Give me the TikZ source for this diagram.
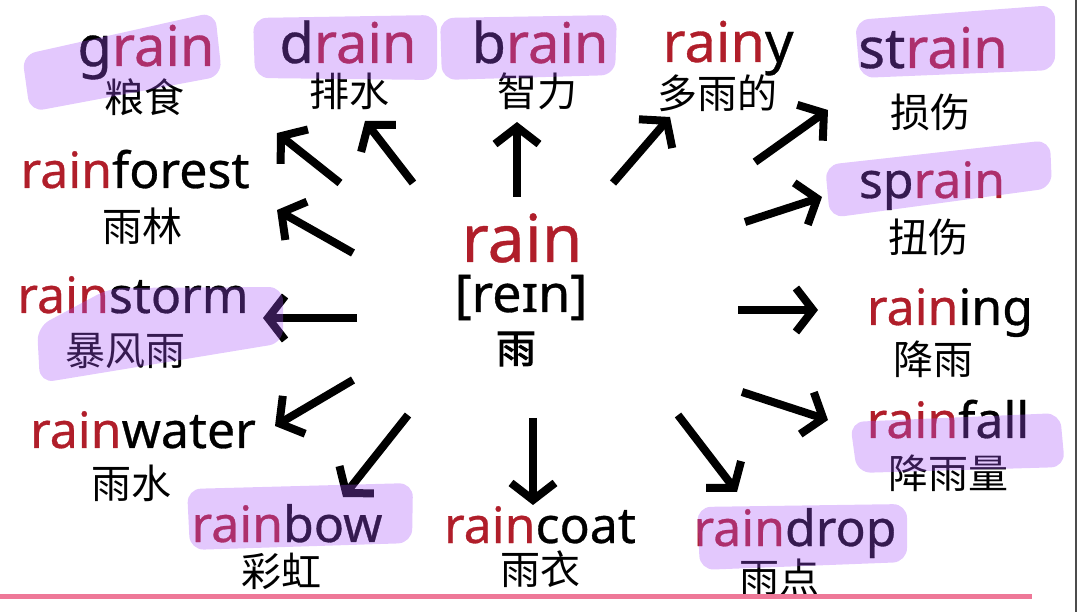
\documentclass[tikz,border=0pt]{standalone}
\usepackage{fontspec}
\setmainfont{Noto Sans}[FakeBold=0.6]
\newfontfamily\cjk{Noto Sans CJK SC}
\newfontfamily\cjkbold{Noto Sans CJK SC}[FakeBold=2.5]
\usepackage{xcolor}
\usepackage{tikz}
\usetikzlibrary{arrows.meta, positioning}

\definecolor{rainred}{RGB}{176,30,42}
\definecolor{hilite}{RGB}{167,83,250}
\definecolor{pinkline}{RGB}{238,120,152}
\newcommand{\rn}{\textcolor{rainred}{rain}}

\tikzset{
  word/.style={inner sep=0pt, anchor=base, font=\fontsize{50}{50}\selectfont},
  bigword/.style={word, font=\fontsize{56}{56}\selectfont},
  gloss/.style={inner sep=0pt, font=\cjk\fontsize{40}{40}\selectfont},
  arr/.style={line width=8pt, -{Straight Barb[length=17pt,width=44pt]}},
  hl/.style={fill=hilite, fill opacity=0.32, rounded corners=14pt},
}

\begin{document}
\begin{tikzpicture}[x=1pt, y=-1pt]
        \useasboundingbox (0,0) rectangle (1080,612);

        % centre
        \node[word, font=\fontsize{66}{66}\selectfont] (rain) at (522,262) {\rn};
        \node[word, font=\fontsize{52}{52}\selectfont] (ipa) at (521,312) {[reɪn]};
        \node[gloss, font=\cjkbold\fontsize{40}{40}\selectfont] (yu) at (516,349) {雨};

        % top row
        \node[bigword] (grain)  at (146,66)  {g\rn};
        \node[gloss]   (grain-z) at (144,97) {粮食};
        \node[bigword] (drain)  at (348,63)  {d\rn};
        \node[gloss]   (drain-z) at (349,91) {排水};
        \node[bigword] (brain)  at (540,63)  {b\rn};
        \node[gloss]   (brain-z) at (537,91) {智力};
        \node[bigword] (rainy)  at (728,62)  {\rn y};
        \node[gloss]   (rainy-z) at (717,93) {多雨的};

        % right column
        \node[bigword] (strain)  at (933,68)  {st\rn};
        \node[gloss]   (strain-z) at (930,112) {损伤};
        \node[word]    (sprain)  at (932,198) {sp\rn};
        \node[gloss]   (sprain-z) at (928,237) {扭伤};
        \node[word]    (raining) at (950,325) {\rn ing};
        \node[gloss]   (raining-z) at (933,359) {降雨};
        \node[word]    (rainfall) at (948,438) {\rn fall};
        \node[gloss]   (rainfall-z) at (948,473) {降雨量};

        % bottom row
        \node[word]    (raindrop) at (795,546) {\rn drop};
        \node[gloss]   (raindrop-z) at (779,577) {雨点};
        \node[word]    (raincoat) at (540,543) {\rn coat};
        \node[gloss]   (raincoat-z) at (540,569) {雨衣};
        \node[word]    (rainbow)  at (287,542) {\rn bow};
        \node[gloss]   (rainbow-z) at (281,571) {彩虹};

        % left column
        \node[word]    (rainwater) at (143,448) {\rn water};
        \node[gloss]   (rainwater-z) at (131,483) {雨水};
        \node[word]    (rainstorm) at (133,313) {\rn storm};
        \node[gloss]   (rainstorm-z) at (125,351) {暴风雨};
        \node[word]    (rainforest) at (135,188) {\rn forest};
        \node[gloss]   (rainforest-z) at (142,226) {雨林};

        % arrow ends
        \coordinate (t1) at (340,183);  \coordinate (h1) at (277,133);
        \coordinate (t2) at (413,183);  \coordinate (h2) at (365,121);
        \coordinate (t3) at (517,197);  \coordinate (h3) at (517,122);
        \coordinate (t4) at (613,183);  \coordinate (h4) at (670,117);
        \coordinate (t5) at (755,162);  \coordinate (h5) at (828,110);
        \coordinate (t6) at (745,222);  \coordinate (h6) at (822,197);
        \coordinate (t7) at (738,310);  \coordinate (h7) at (818,310);
        \coordinate (t8) at (742,392);  \coordinate (h8) at (828,420);
        \coordinate (t9) at (678,415);  \coordinate (h9) at (737,492);
        \coordinate (t10) at (533,418); \coordinate (h10) at (533,505);
        \coordinate (t11) at (408,415); \coordinate (h11) at (343,497);
        \coordinate (t12) at (353,380); \coordinate (h12) at (275,426);
        \coordinate (t13) at (357,318); \coordinate (h13) at (263,318);
        \coordinate (t14) at (353,253); \coordinate (h14) at (277,210);

        \path[arr]
        (t1) edge (h1)   (t2) edge (h2)   (t3) edge (h3)   (t4) edge (h4)
        (t5) edge (h5)   (t6) edge (h6)   (t7) edge (h7)   (t8) edge (h8)
        (t9) edge (h9)   (t10) edge (h10) (t11) edge (h11) (t12) edge (h12)
        (t13) edge (h13) (t14) edge (h14);

        % highlighter strokes
        \fill[hl] (22,55) -- (215,12) -- (222,76) -- (30,112) -- cycle;
        \fill[hl] (253,18) -- (437,15) -- (437,80) -- (255,78) -- cycle;
        \fill[hl] (440,18) -- (617,15) -- (615,75) -- (442,80) -- cycle;
        \fill[hl] (855,20) -- (1055,5) -- (1055,70) -- (860,78) -- cycle;
        \fill[hl] (825,165) -- (1050,140) -- (1052,188) -- (830,218) -- cycle;
        \fill[hl] (37,327) -- (110,288) -- (283,287) -- (283,343) -- (40,383) -- cycle;
        \fill[hl] (850,422) -- (1060,413) -- (1065,467) -- (857,473) -- cycle;
        \fill[hl] (187,489) -- (413,483) -- (412,543) -- (190,550) -- cycle;
        \fill[hl] (697,507) -- (907,504) -- (907,562) -- (700,570) -- cycle;

        % frame lines
        \coordinate (pl) at (0,596);   \coordinate (pr) at (1032,596);
        \draw[pinkline, line width=5pt] (pl) -- (pr);
        \coordinate (vt) at (1076,0);  \coordinate (vb) at (1076,612);
        \draw[black!70, line width=1.5pt] (vt) -- (vb);
\end{tikzpicture}
\end{document}
